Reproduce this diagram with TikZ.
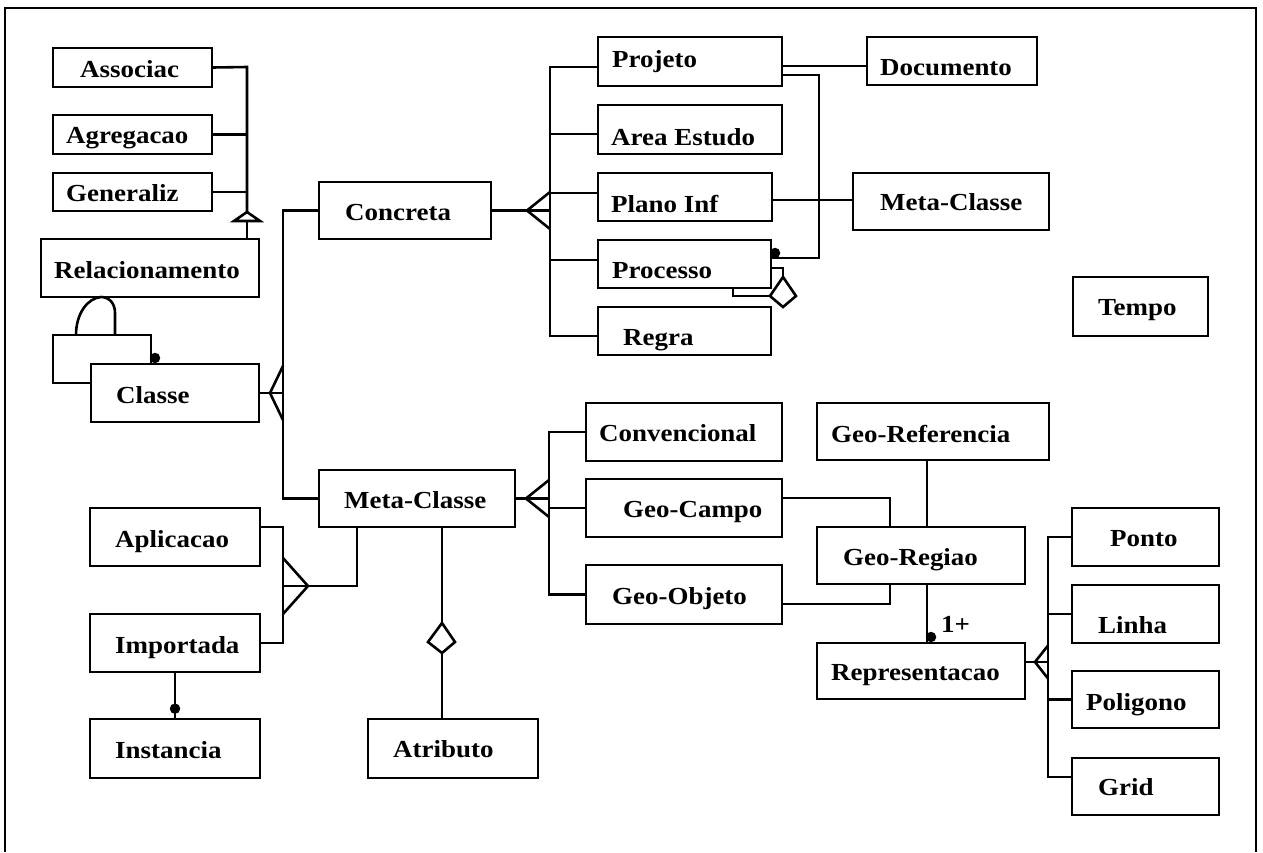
\documentclass[tikz,border=0pt]{standalone}
\usepackage{fontspec}
\newfontfamily\boxfont{Liberation Serif}[FakeStretch=1.1]
\newcommand\ebx[8]{%
  \node[ebox, minimum width={#4-#2}, minimum height={#5-#3}] (#1) at ({(#2+#4)/2},{(#3+#5)/2}) {};
  \node[txt] (#1-t) at (#6,#7) {#8};}
\newcommand\crowfoot[3]{\draw[con] (#1) ++(0,{-(#3)}) -- ++({-(#2)},#3) -- ++(#2,#3);}
\begin{document}
\begin{tikzpicture}[x=1pt,y=-1pt,
  ebox/.style={draw, line width=2.7pt, fill=white, inner sep=0pt, rectangle},
  txt/.style={anchor=base west, inner sep=0pt, font=\boxfont\bfseries\fontsize{24.5}{27}\selectfont},
  con/.style={line width=2.6pt},
  thinline/.style={line width=1.8pt},
  dot/.style={circle, fill, inner sep=0pt, minimum size=10.5pt},
  line join=miter]
\useasboundingbox (0,0) rectangle (1263,852);
% frame
\draw[line width=2.8pt] (5,852) -- (5,8) -- (1256,8) -- (1256,852);

% boxes
\ebx{Associac}{53}{48}{212}{87}{80}{77}{Associac}
\ebx{Agregacao}{53}{115}{212}{154}{66}{143}{Agregacao}
\ebx{Generaliz}{53}{173}{212}{211}{66}{201}{Generaliz}
\ebx{Relacionamento}{41}{239}{259}{297}{54}{278}{Relacionamento}
\node[ebox, minimum width=98, minimum height=48] (selfbox) at (102,359) {};
\ebx{Classe}{91}{364}{259}{422}{116}{403}{Classe}
\ebx{Concreta}{319}{182}{491}{239}{345}{220}{Concreta}
\ebx{Projeto}{598}{37}{782}{86}{612}{67}{Projeto}
\ebx{AreaEstudo}{598}{105}{782}{154}{611}{145}{Area Estudo}
\ebx{PlanoInf}{598}{173}{772}{221}{611}{212}{Plano Inf}
\ebx{Processo}{598}{240}{771}{288}{612}{278}{Processo}
\ebx{Regra}{598}{307}{771}{355}{623}{345}{Regra}
\ebx{Documento}{867}{37}{1037}{85}{880}{75}{Documento}
\ebx{MetaClasseR}{853}{173}{1049}{230}{880}{210}{Meta-Classe}
\ebx{Tempo}{1073}{277}{1208}{336}{1098}{315}{Tempo}
\ebx{MetaClasse}{319}{470}{515}{527}{344}{508}{Meta-Classe}
\ebx{Aplicacao}{90}{508}{260}{566}{115}{547}{Aplicacao}
\ebx{Importada}{90}{614}{260}{672}{115}{653}{Importada}
\ebx{Instancia}{90}{719}{260}{778}{115}{758}{Instancia}
\ebx{Atributo}{368}{719}{538}{778}{393}{757}{Atributo}
\ebx{Convencional}{586}{403}{782}{461}{599}{441}{Convencional}
\ebx{GeoCampo}{586}{479}{782}{537}{623}{517}{Geo-Campo}
\ebx{GeoObjeto}{586}{565}{782}{624}{612}{604}{Geo-Objeto}
\ebx{GeoReferencia}{817}{403}{1049}{460}{831}{442}{Geo-Referencia}
\ebx{GeoRegiao}{817}{527}{1025}{584}{843}{565}{Geo-Regiao}
\ebx{Representacao}{817}{643}{1025}{699}{831}{680}{Representacao}
\ebx{Ponto}{1072}{508}{1219}{566}{1110}{546}{Ponto}
\ebx{Linha}{1072}{585}{1219}{643}{1098}{633}{Linha}
\ebx{Poligono}{1072}{671}{1219}{728}{1086}{710}{Poligono}
\ebx{Grid}{1072}{758}{1219}{815}{1098}{795}{Grid}

% generalization of Relacionamento
\coordinate (gTop) at (247,67);
\coordinate (gApex) at (247,212);
\coordinate (gBase) at (247,221);
\draw[con] (Associac.east -| 212,67) -- (gTop) -- (gApex);
\draw[con] (Agregacao.east) -- (Agregacao.east -| gTop);
\draw[con] (Generaliz.east) -- (Generaliz.east -| gTop);
\draw[con] (gBase) -- (Relacionamento.north -| gBase);
\draw[con, fill=white] (gApex) -- ++(-13,9) -- ++(26,0) -- cycle;

% self association Relacionamento / Classe
\coordinate (aL) at (76,335);
\coordinate (aR) at (115,335);
\coordinate (aTop) at (101,297);
\draw[con] (aL) .. controls (76,313) and (88,298) .. (aTop) .. controls (109,297) and (115,303) .. (115,313) -- (aR);
\node[dot] (selfdot) at (155,358) {};

% Classe bus
\coordinate (b1top) at (283,211);
\draw[con] (Concreta.west) -- (Concreta.west -| b1top) -- (MetaClasse.west -| b1top) -- (MetaClasse.west);
\draw[con] (Classe.east) -- (Classe.east -| b1top);
\crowfoot{Classe.east -| b1top}{13}{27}

% Concreta bus
\coordinate (b2top) at (550,67);
\coordinate (b2bot) at (550,336);
\draw[con] (Concreta.east) -- (Concreta.east -| b2top);
\crowfoot{Concreta.east -| b2top}{23}{18.5}
\draw[con] (Projeto.west |- b2top) -- (b2top) -- (b2bot) -- (Regra.west |- b2bot);
\coordinate (jArea) at (550,134);
\coordinate (jPlano) at (550,193);
\coordinate (jProc) at (550,260);
\draw[con] (jArea) -- (AreaEstudo.west |- jArea);
\draw[con] (jPlano) -- (PlanoInf.west |- jPlano);
\draw[con] (jProc) -- (Processo.west |- jProc);

% Projeto - Documento, Projeto - Processo
\coordinate (jDoc) at (820,66);
\draw[thinline] (Projeto.east |- jDoc) -- (Documento.west |- jDoc);
\coordinate (jPP1) at (819,75);
\coordinate (jPP2) at (819,258);
\draw[con] (Projeto.east |- jPP1) -- (jPP1) -- (jPP2) -- (Processo.east |- jPP2);
\node[dot] (procdot) at (775,253) {};
% Plano Inf - Meta-Classe
\coordinate (jPM) at (810,200);
\draw[thinline] (PlanoInf.east |- jPM) -- (MetaClasseR.west |- jPM);
% Processo self aggregation
\coordinate (sa1) at (783,268);
\coordinate (sa2) at (733,296);
\coordinate (saL) at (770,296);
\draw[con] (Processo.east |- sa1) -- (sa1) -- ++(0,10);
\draw[con] (Processo.south -| sa2) -- (sa2) -- (saL);
\draw[con, fill=white] (783,277) -- (796,296) -- (783,307) -- (saL) -- cycle;

% Meta-Classe bus
\coordinate (b3) at (549,432);
\draw[con] (MetaClasse.east) -- (MetaClasse.east -| b3);
\crowfoot{MetaClasse.east -| b3}{23}{18.5}
\draw[con] (Convencional.west) -- (Convencional.west -| b3) -- (GeoObjeto.west -| b3) -- (GeoObjeto.west);
\draw[con] (GeoCampo.west) -- (GeoCampo.west -| b3);

% Meta-Classe - Aplicacao / Importada
\coordinate (jMA) at (357,586);
\coordinate (b4) at (283,586);
\coordinate (jApl) at (283,527);
\draw[con] (MetaClasse.south -| jMA) -- (jMA) -- (b4);
\draw[con] (Aplicacao.east |- jApl) -- (jApl) -- (Importada.east -| jApl) -- (Importada.east);
\crowfoot{b4}{-25}{28}

% Importada - Instancia
\draw[con] (Importada.south) -- (Instancia.north);
\node[dot] (instdot) at ([yshift=9pt]Instancia.north) {};

% Meta-Classe - Atributo (aggregation)
\coordinate (jAt) at (442,623);
\coordinate (jAtB) at (442,653);
\draw[con] (MetaClasse.south -| jAt) -- (jAt);
\draw[con] (jAtB) -- (Atributo.north -| jAtB);
\draw[con, fill=white] (jAt) -- (455,642) -- (jAtB) -- (428,642) -- cycle;

% Geo-Campo / Geo-Objeto - Geo-Regiao
\coordinate (jGC) at (890,498);
\coordinate (jGO) at (890,604);
\draw[con] (GeoCampo.east |- jGC) -- (jGC) -- (GeoRegiao.north -| jGC);
\draw[con] (GeoObjeto.east |- jGO) -- (jGO) -- (GeoRegiao.south -| jGO);
% Geo-Referencia - Geo-Regiao - Representacao
\coordinate (jGR) at (927,500);
\draw[thinline] (GeoReferencia.south -| jGR) -- (GeoRegiao.north -| jGR);
\draw[con] (GeoRegiao.south -| jGR) -- (Representacao.north -| jGR);
\node[dot] (repdot) at (931,637) {};
\node[txt] (oneplus) at (941,632) {1+};

% Representacao bus
\coordinate (b5) at (1048,537);
\coordinate (jGrid) at (1048,777);
\coordinate (jRep) at (1048,662);
\draw[con] (Representacao.east |- jRep) -- (jRep);
\crowfoot{jRep}{13}{16.5}
\draw[con] (Ponto.west) -- (Ponto.west -| b5) -- (jGrid) -- (Grid.west |- jGrid);
\draw[con] (Linha.west) -- (Linha.west -| b5);
\draw[con] (Poligono.west) -- (Poligono.west -| b5);
\end{tikzpicture}
\end{document}
